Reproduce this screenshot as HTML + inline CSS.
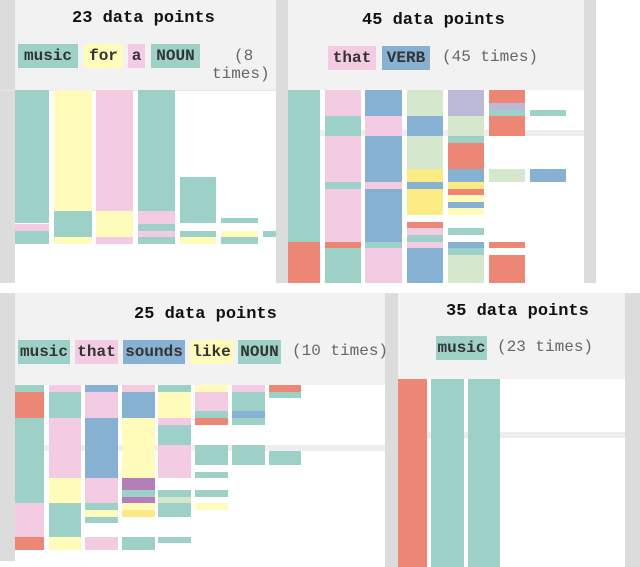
<!DOCTYPE html>
<html><head><meta charset="utf-8"><style>
body{margin:0;width:640px;height:567px;background:#fff;position:relative;overflow:hidden;font-family:"Liberation Mono",monospace}
.a{position:absolute}
.g{position:absolute;background:#dcdcdc}
.h{position:absolute;background:#f2f2f2}
.t{position:absolute;font-weight:bold;font-size:17px;color:#111;white-space:nowrap}
.k{position:absolute;font-size:16px;line-height:24px;height:24px;text-align:center;color:#333;font-weight:bold}
.c{position:absolute;font-size:16px;color:#666;white-space:nowrap}
</style></head><body>
<div id="root"></div>
<script>
// colour keys
const palette={T:'#9dd1c7',P:'#f3cce3',Y:'#fffcbb',B:'#86b1d3',R:'#ec8776',G:'#d5e8cd',L:'#bcb9d8',O:'#fbeb85',U:'#b47fb8'};
// segment data: per column list of [start,end,colour] in row units from bar top
const p1Cols=[
 [[0,133,'T'],[134,141,'P'],[141,154,'T']],
 [[0,121,'Y'],[121,147,'T'],[147,154,'Y']],
 [[0,121,'P'],[121,147,'Y'],[147,154,'P']],
 [[0,121,'T'],[121,134,'P'],[134,141,'T'],[141,147,'P'],[147,154,'T']],
 [[87,133,'T'],[141,147,'T'],[147,154,'Y']],
 [[128,133,'T'],[141,147,'Y'],[147,154,'T']],
 [[141,147,'T']]
];
const p2Cols=[
 [[0,152,'T'],[152,193,'R']],
 [[0,26,'P'],[26,46,'T'],[46,92,'P'],[92,99,'T'],[99,152,'P'],[152,158,'R'],[158,193,'T']],
 [[0,26,'B'],[26,46,'P'],[46,92,'B'],[92,99,'P'],[99,152,'B'],[152,158,'T'],[158,193,'P']],
 [[0,26,'G'],[26,46,'B'],[46,79,'G'],[79,92,'O'],[92,99,'B'],[99,125,'O'],[132,138,'R'],[138,145,'P'],[145,152,'T'],[152,158,'P'],[158,193,'B']],
 [[0,26,'L'],[26,46,'G'],[46,53,'T'],[53,79,'R'],[79,92,'B'],[92,99,'O'],[99,105,'R'],[105,112,'Y'],[112,118,'B'],[118,125,'Y'],[138,145,'T'],[152,158,'B'],[158,165,'T'],[165,193,'G']],
 [[0,13,'R'],[13,20,'L'],[20,26,'T'],[26,46,'R'],[79,92,'G'],[152,158,'R'],[165,193,'R']],
 [[20,26,'T'],[79,92,'B']]
];
const p3Cols=[
 [[0,7,'T'],[7,33,'R'],[33,118,'T'],[118,152,'P'],[152,165,'R']],
 [[0,7,'P'],[7,33,'T'],[33,93,'P'],[93,118,'Y'],[118,152,'T'],[152,165,'Y']],
 [[0,7,'B'],[7,33,'P'],[33,93,'B'],[93,118,'P'],[118,125,'T'],[125,132,'Y'],[132,138,'T'],[152,165,'P']],
 [[0,7,'P'],[7,33,'B'],[33,93,'Y'],[93,105,'U'],[105,112,'T'],[112,118,'U'],[118,125,'Y'],[125,132,'O'],[152,165,'T']],
 [[0,7,'T'],[7,33,'Y'],[33,40,'P'],[40,60,'T'],[60,93,'P'],[105,112,'T'],[112,118,'G'],[118,132,'T'],[152,158,'T']],
 [[0,7,'Y'],[7,26,'P'],[26,33,'T'],[33,40,'R'],[60,80,'T'],[87,93,'T'],[105,112,'T'],[118,125,'Y']],
 [[0,7,'P'],[7,26,'T'],[26,33,'B'],[33,40,'T'],[60,80,'T']],
 [[0,7,'R'],[7,13,'T'],[66,80,'T']]
];
const p4Cols=[
 [[0,188,'R']],
 [[0,188,'T']],
 [[0,188,'T']]
];
const root=document.getElementById('root');
function box(cls,x,y,w,h,bg,name){
 const d=document.createElement('div');d.className=cls;
 d.style.left=x+'px';d.style.top=y+'px';d.style.width=w+'px';d.style.height=h+'px';
 if(bg)d.style.background=bg;
 
 
 root.appendChild(d);return d;
}
function txt(cls,x,y,s,name,bg,w){
 const d=document.createElement('div');d.className=cls;d.textContent=s;
 d.style.left=x+'px';d.style.top=y+'px';
 if(bg){d.style.background=bg;d.style.width=w+'px';}
 
 
 root.appendChild(d);return d;
}
function drawCols(cols,xs,top,panel){
 const yS=v=>top+v;
 cols.forEach((col,i)=>{
  col.forEach(s=>{
   const el=box('a',xs[i][0],yS(s[0]),xs[i][1]-xs[i][0],yS(s[1])-yS(s[0]),palette[s[2]],panel+'-segment');
   
  });
 });
}
// Panel 1
box('g',0,0,15,283,null,'p1-left-rail');
box('h',15,0,261,90,null,'p1-header');
box('a',0,90,276,1,'#e6e6e6','p1-divider');
txt('t',72,9,'23 data points','p1-title');
txt('k',18,44,'music','p1-token-music',palette.T,60);
txt('k',84,44,'for','p1-token-for',palette.Y,39);
txt('k',128,44,'a','p1-token-a',palette.P,17);
txt('k',151,44,'NOUN','p1-token-noun',palette.T,49);
txt('c',234,47,'(8','p1-count');
txt('c',212,65,'times)','p1-count-2');
drawCols(p1Cols,[[15,49],[54,92],[96,133],[138,175],[180,216],[221,258],[263,276]],90,'p1');
// Panel 2
box('g',276,0,12,283,null,'p2-left-rail');
box('h',288,0,296,90,null,'p2-header');
box('g',584,0,12,283,null,'p2-right-rail');
box('a',320,130,264,6,'#eeeeee','p2-band');
txt('t',362,11,'45 data points','p2-title');
txt('k',328,46,'that','p2-token-that',palette.P,48);
txt('k',382,46,'VERB','p2-token-verb',palette.B,48);
txt('c',442,48,'(45 times)','p2-count');
drawCols(p2Cols,[[288,320],[325,361],[365,402],[407,443],[448,484],[489,525],[530,566]],90,'p2');
// Panel 3
box('g',0,293,15,268,null,'p3-left-rail');
box('h',15,293,370,92,null,'p3-header');
box('g',385,293,13,274,null,'p3-right-rail');
box('a',44,445,341,6,'#eeeeee','p3-band');
txt('t',134,305,'25 data points','p3-title');
txt('k',18,340,'music','p3-token-music',palette.T,52);
txt('k',75,340,'that','p3-token-that',palette.P,43);
txt('k',123,340,'sounds','p3-token-sounds',palette.B,62);
txt('k',190,340,'like','p3-token-like',palette.Y,43);
txt('k',238,340,'NOUN','p3-token-noun',palette.T,43);
txt('c',292,342,'(10 times)','p3-count');
drawCols(p3Cols,[[15,44],[49,81],[85,118],[122,155],[158,191],[195,228],[232,265],[269,301]],385,'p3');
// Panel 4
box('h',398,293,227,86,null,'p4-header');
box('g',625,293,15,274,null,'p4-right-rail');
box('a',427,432,198,6,'#eeeeee','p4-band');
txt('t',446,302,'35 data points','p4-title');
txt('k',436,336,'music','p4-token-music',palette.T,51);
txt('c',497,338,'(23 times)','p4-count');
drawCols(p4Cols,[[398,427],[431,464],[468,500]],379,'p4');
</script>
</body></html>
